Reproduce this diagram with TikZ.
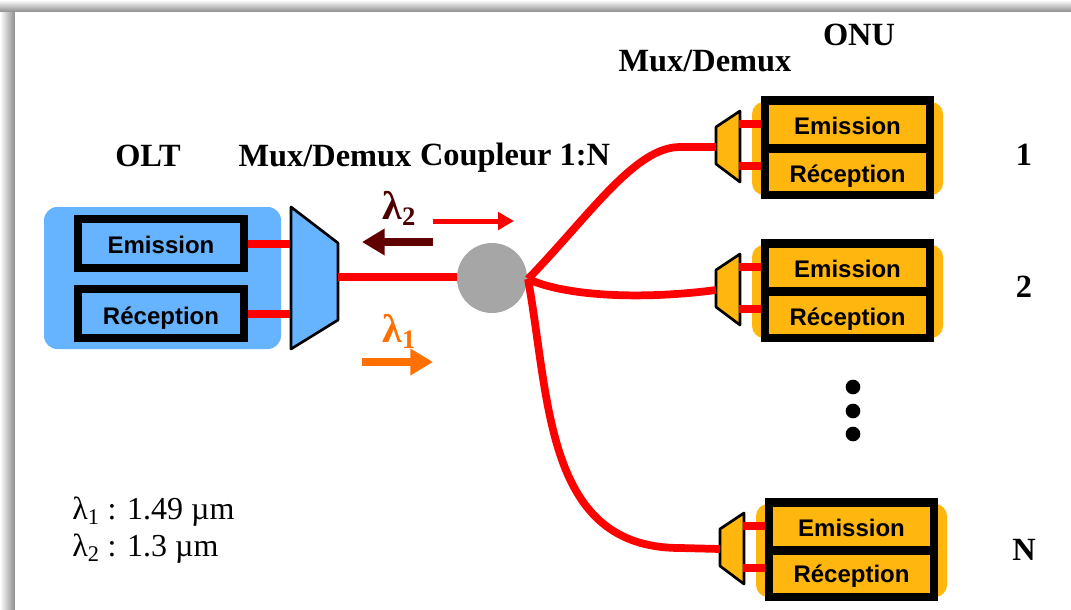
\documentclass[tikz,border=0pt]{standalone}
\usepackage{fontspec}
\usetikzlibrary{arrows.meta}
\setmainfont{Liberation Serif}
\newfontfamily\labfont{Liberation Sans}
\definecolor{oltblue}{RGB}{102,179,255}
\definecolor{onuorange}{RGB}{255,182,14}
\definecolor{fibre}{RGB}{255,0,0}
\definecolor{darkred}{RGB}{96,0,0}
\definecolor{lamorange}{RGB}{255,112,0}
\definecolor{coupgray}{RGB}{166,166,166}
\newcommand{\lamsub}[1]{\raisebox{-4.5pt}{\fontsize{20}{20}\selectfont #1}}
\tikzset{
  x=0.75pt,y=-0.75pt,
  fibreline/.style={draw=fibre,line width=5.8pt,line cap=butt},
  stub/.style={draw=fibre,line width=6pt},
  unitbox/.style={draw=black,line width=6pt,inner sep=0pt,anchor=center},
  onucell/.style={fill=onuorange,inner sep=0pt,minimum width=117.75pt},
  unittext/.style={font=\labfont\bfseries\fontsize{18}{18}\selectfont,text=black,inner sep=0pt},
  muxshape/.style={draw=black,line width=2pt,line join=round},
  heading/.style={font=\bfseries\fontsize{24.3}{26}\selectfont,text=black,inner sep=0pt},
  legend/.style={font=\fontsize{24}{26}\selectfont,text=black,inner sep=0pt,anchor=west},
  lamlab/.style={font=\bfseries\fontsize{30}{30}\selectfont,inner sep=0pt},
  bigarrow/.style={line width=5.5pt,-{Triangle[length=17pt,width=19pt]}},
  smallarrow/.style={line width=3.75pt,-{Triangle[length=12pt,width=13pt]}},
  blackdot/.style={circle,fill=black,minimum size=11pt,inner sep=0pt},
}
\newcommand{\onublock}[4]{% prefix, dx, dy, text y
  \begin{scope}[shift={(#2,#3)}]
    \fill[onuorange,rounded corners=9pt] (752,102) rectangle (943,195);
    \fill[black] (761,96) rectangle (934,199);
    \node[onucell,minimum height=29.25pt] (#1e) at (847.5,124.5) {};
    \node[onucell,minimum height=28.5pt] (#1r) at (847.5,172) {};
    \node[unittext] (#1et) at (847.5,126) {Emission};
    \node[unittext] (#1rt) at (847.5,#4) {Réception};
    \draw[muxshape,fill=onuorange] (716,127) -- (740,111) -- (740,182) -- (716,164) -- cycle;
    \coordinate (#1m) at (716,147);
    \coordinate (#1p) at (739,124);
    \coordinate (#1q) at (739,166);
    \draw[stub] (#1p) -- (#1p -| #1e.west);
    \draw[stub] (#1q) -- (#1q -| #1r.west);
    \fill[black] (761,96) rectangle (769,199);
  \end{scope}}
\begin{document}
\begin{tikzpicture}
\useasboundingbox (0,0) rectangle (1071,610);
% page frame
\shade[left color=white,right color=black!45] (0,0) rectangle (15,610);
\shade[top color=white,bottom color=black!45] (0,0) rectangle (1071,12);
\fill[white] (15,12) rectangle (1071,610);
% OLT
\fill[oltblue,rounded corners=10pt] (44,207) rectangle (281,349);
\node[unitbox,fill=oltblue,minimum width=124.5pt,minimum height=37pt] (olte) at (161,243.5) {};
\node[unitbox,fill=oltblue,minimum width=124.5pt,minimum height=37pt] (oltr) at (161,313.5) {};
\node[unittext] (oltet) at (161,245) {Emission};
\node[unittext] (oltrt) at (161,318) {Réception};
\draw[muxshape,fill=oltblue] (291,207) -- (338,243) -- (338,320) -- (291,349) -- cycle;
\coordinate (oltp) at (290,243);
\coordinate (oltq) at (290,313);
\coordinate (oltm) at (338,277);
\draw[stub] (olte.east) -- (olte.east -| oltp);
\draw[stub] (oltr.east) -- (oltr.east -| oltq);
% coupler
\node[circle,fill=coupgray,minimum size=52.5pt,inner sep=0pt] (coup) at (492,278) {};
\coordinate (coupout) at (528,279);
\draw[fibreline] (oltm) -- (oltm -| coup.west);
% ONU
\onublock{a}{0}{0}{176}
\onublock{b}{0}{143}{176}
\onublock{c}{4}{402}{174}
\draw[fibreline,line join=round] (coupout) .. controls (590,215) and (635,147) .. (680,147) -- (am);
\draw[fibreline,line join=round] (coupout) .. controls (565,296) and (640,300) .. (bm);
\draw[fibreline,line join=round] (coupout) .. controls (550,400) and (545,548) .. (680,548) -- (cm);
% arrows
\coordinate (r1) at (433,221); \coordinate (r2) at (514,221);
\coordinate (d1) at (433,242); \coordinate (d2) at (362,242);
\coordinate (o1) at (362,362); \coordinate (o2) at (433,362);
\draw[smallarrow,draw=fibre,fill=fibre] (r1) -- (r2);
\draw[bigarrow,draw=darkred,fill=darkred] (d1) -- (d2);
\draw[bigarrow,draw=lamorange,fill=lamorange] (o1) -- (o2);
\node[lamlab,text=darkred!80!black] (lam2) at (399,208) {λ\lamsub{2}};
\node[lamlab,text=lamorange] (lam1) at (399,331) {λ\lamsub{1}};
% labels
\node[heading] (t1) at (148,156) {OLT};
\node[heading] (t2) at (325,156) {Mux/Demux};
\node[heading] (t3) at (515,158) {Coupleur 1:N};
\node[heading] (t4) at (705,61) {Mux/Demux};
\node[heading] (t5) at (859,35) {ONU};
\node[heading] (n1) at (1024,155) {1};
\node[heading] (n2) at (1024,287) {2};
\node[heading] (nN) at (1024,550) {N};
\node[blackdot] (d1n) at (853,387) {};
\node[blackdot] (d2n) at (853,411) {};
\node[blackdot] (d3n) at (853,434) {};
\node[legend] (l1) at (72,512) {λ\textsubscript{1} : 1.49 µm};
\node[legend] (l2) at (72,549) {λ\textsubscript{2} : 1.3 µm};
\end{tikzpicture}
\end{document}
